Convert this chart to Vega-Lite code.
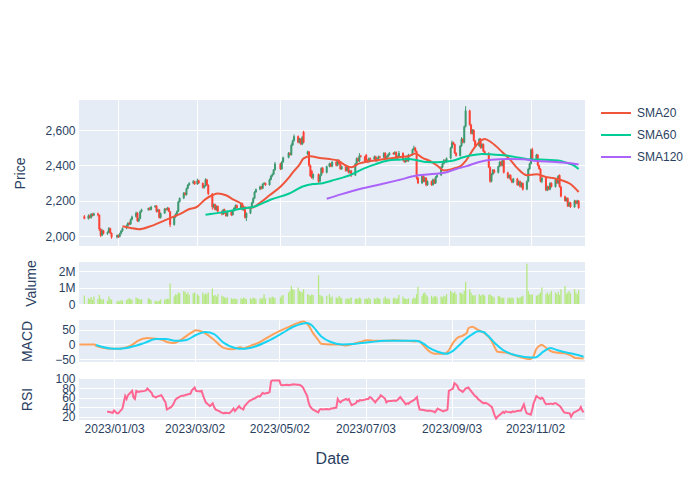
{
"$schema": "https://vega.github.io/schema/vega-lite/v6.json",
"background": "white",
"padding": {"left": 13, "top": 97, "right": 0, "bottom": 0},
"config": {
 "font": "Liberation Sans",
 "view": {"stroke": null, "fill": "#E5ECF6"},
 "axis": {"domain": false, "ticks": false, "tickSize": 0, "gridColor": "#ffffff", "gridWidth": 1, "labelColor": "#2a3f5f", "labelFontSize": 12, "titleColor": "#2a3f5f", "titleFontSize": 14, "titleFontWeight": "normal", "labelPadding": 4, "titlePadding": 20, "labelOverlap": false, "labelBound": false}
},
"datasets": {
"ohlc": [
{"d":"2022-12-09","o":2112,"h":2120,"l":2096,"c":2100,"v":520000},
{"d":"2022-12-12","o":2100,"h":2124,"l":2094,"c":2116,"v":350000},
{"d":"2022-12-13","o":2116,"h":2122,"l":2100,"c":2105,"v":300000},
{"d":"2022-12-14","o":2105,"h":2132,"l":2100,"c":2126,"v":420000},
{"d":"2022-12-15","o":2126,"h":2130,"l":2112,"c":2118,"v":260000},
{"d":"2022-12-16","o":2118,"h":2134,"l":2114,"c":2128,"v":460000},
{"d":"2022-12-19","o":2128,"h":2134,"l":2112,"c":2120,"v":300000},
{"d":"2022-12-20","o":2120,"h":2124,"l":2030,"c":2040,"v":560000},
{"d":"2022-12-21","o":2040,"h":2046,"l":1996,"c":2005,"v":340000},
{"d":"2022-12-22","o":2005,"h":2042,"l":2000,"c":2032,"v":250000},
{"d":"2022-12-23","o":2032,"h":2036,"l":2010,"c":2015,"v":300000},
{"d":"2022-12-26","o":2015,"h":2028,"l":2008,"c":2022,"v":200000},
{"d":"2022-12-27","o":2022,"h":2052,"l":2018,"c":2045,"v":450000},
{"d":"2022-12-28","o":2045,"h":2048,"l":2012,"c":2018,"v":300000},
{"d":"2022-12-29","o":2018,"h":2022,"l":1986,"c":1995,"v":260000,"r":31},
{"d":"2023-01-02","o":1995,"h":2010,"l":1988,"c":2005,"v":150000,"r":28},
{"d":"2023-01-03","o":2005,"h":2010,"l":1990,"c":1998,"v":200000,"r":33},
{"d":"2023-01-04","o":1998,"h":2020,"l":1994,"c":2015,"v":160000,"r":30},
{"d":"2023-01-05","o":2015,"h":2036,"l":2010,"c":2030,"v":250000,"r":27},
{"d":"2023-01-06","o":2030,"h":2050,"l":2025,"c":2045,"v":200000,"r":27},
{"d":"2023-01-09","o":2045,"h":2066,"l":2040,"c":2060,"v":240000,"r":37},
{"d":"2023-01-10","o":2060,"h":2080,"l":2055,"c":2075,"v":300000,"r":50},
{"d":"2023-01-11","o":2075,"h":2082,"l":2062,"c":2068,"v":350000,"r":63},
{"d":"2023-01-12","o":2068,"h":2100,"l":2064,"c":2095,"v":300000,"r":57},
{"d":"2023-01-13","o":2095,"h":2116,"l":2090,"c":2110,"v":260000,"r":65},
{"d":"2023-01-16","o":2110,"h":2140,"l":2106,"c":2132,"v":400000,"r":74},
{"d":"2023-01-17","o":2132,"h":2136,"l":2080,"c":2086,"v":350000,"r":60},
{"d":"2023-01-18","o":2086,"h":2105,"l":2080,"c":2100,"v":300000,"r":57},
{"d":"2023-01-19","o":2100,"h":2146,"l":2096,"c":2140,"v":260000,"r":74},
{"d":"2023-01-20","o":2140,"h":2156,"l":2134,"c":2150,"v":300000,"r":72},
{"d":"2023-01-25","o":2150,"h":2162,"l":2144,"c":2158,"v":350000,"r":74},
{"d":"2023-01-26","o":2158,"h":2164,"l":2146,"c":2150,"v":300000,"r":75},
{"d":"2023-01-27","o":2150,"h":2172,"l":2146,"c":2166,"v":250000,"r":79},
{"d":"2023-01-30","o":2166,"h":2176,"l":2160,"c":2172,"v":200000,"r":70},
{"d":"2023-01-31","o":2172,"h":2176,"l":2134,"c":2140,"v":160000,"r":63},
{"d":"2023-02-01","o":2140,"h":2156,"l":2136,"c":2150,"v":150000,"r":62},
{"d":"2023-02-02","o":2150,"h":2154,"l":2100,"c":2105,"v":200000,"r":60},
{"d":"2023-02-03","o":2105,"h":2134,"l":2100,"c":2130,"v":280000,"r":62},
{"d":"2023-02-06","o":2130,"h":2160,"l":2126,"c":2155,"v":260000,"r":65},
{"d":"2023-02-07","o":2155,"h":2160,"l":2144,"c":2150,"v":300000,"r":60},
{"d":"2023-02-08","o":2150,"h":2166,"l":2146,"c":2160,"v":320000,"r":55},
{"d":"2023-02-09","o":2160,"h":2164,"l":2136,"c":2140,"v":300000,"r":50},
{"d":"2023-02-10","o":2140,"h":2144,"l":2052,"c":2065,"v":1250000,"r":35},
{"d":"2023-02-13","o":2065,"h":2114,"l":2060,"c":2110,"v":450000,"r":40},
{"d":"2023-02-14","o":2110,"h":2130,"l":2104,"c":2125,"v":600000,"r":43},
{"d":"2023-02-15","o":2125,"h":2146,"l":2120,"c":2140,"v":550000,"r":48},
{"d":"2023-02-16","o":2140,"h":2200,"l":2136,"c":2195,"v":700000,"r":55},
{"d":"2023-02-17","o":2195,"h":2220,"l":2190,"c":2215,"v":650000,"r":58},
{"d":"2023-02-20","o":2215,"h":2250,"l":2210,"c":2245,"v":800000,"r":63},
{"d":"2023-02-21","o":2245,"h":2250,"l":2230,"c":2235,"v":750000,"r":64},
{"d":"2023-02-22","o":2235,"h":2275,"l":2230,"c":2270,"v":600000,"r":64},
{"d":"2023-02-23","o":2270,"h":2295,"l":2265,"c":2290,"v":700000,"r":65},
{"d":"2023-02-24","o":2290,"h":2306,"l":2285,"c":2300,"v":550000,"r":66},
{"d":"2023-02-27","o":2300,"h":2318,"l":2294,"c":2310,"v":650000,"r":68},
{"d":"2023-02-28","o":2310,"h":2314,"l":2290,"c":2295,"v":700000,"r":75},
{"d":"2023-03-02","o":2295,"h":2326,"l":2290,"c":2315,"v":600000,"r":81},
{"d":"2023-03-03","o":2315,"h":2320,"l":2296,"c":2300,"v":500000,"r":74},
{"d":"2023-03-06","o":2300,"h":2304,"l":2270,"c":2275,"v":700000,"r":73},
{"d":"2023-03-07","o":2275,"h":2290,"l":2268,"c":2285,"v":550000,"r":74},
{"d":"2023-03-08","o":2285,"h":2328,"l":2280,"c":2320,"v":650000,"r":65},
{"d":"2023-03-09","o":2320,"h":2324,"l":2284,"c":2290,"v":600000,"r":57},
{"d":"2023-03-10","o":2290,"h":2294,"l":2232,"c":2240,"v":700000,"r":50},
{"d":"2023-03-13","o":2240,"h":2244,"l":2150,"c":2165,"v":950000,"r":42},
{"d":"2023-03-14","o":2165,"h":2186,"l":2158,"c":2180,"v":500000,"r":45},
{"d":"2023-03-15","o":2180,"h":2184,"l":2146,"c":2150,"v":550000,"r":48},
{"d":"2023-03-16","o":2150,"h":2175,"l":2144,"c":2170,"v":450000,"r":40},
{"d":"2023-03-17","o":2170,"h":2174,"l":2136,"c":2140,"v":600000,"r":35},
{"d":"2023-03-20","o":2140,"h":2146,"l":2118,"c":2125,"v":500000,"r":31},
{"d":"2023-03-21","o":2125,"h":2155,"l":2120,"c":2150,"v":450000,"r":29},
{"d":"2023-03-22","o":2150,"h":2156,"l":2126,"c":2130,"v":400000,"r":28},
{"d":"2023-03-23","o":2130,"h":2136,"l":2110,"c":2115,"v":350000,"r":27},
{"d":"2023-03-24","o":2115,"h":2145,"l":2110,"c":2140,"v":400000,"r":28},
{"d":"2023-03-27","o":2140,"h":2146,"l":2114,"c":2120,"v":350000,"r":27},
{"d":"2023-03-28","o":2120,"h":2150,"l":2116,"c":2145,"v":300000,"r":30},
{"d":"2023-03-29","o":2145,"h":2165,"l":2140,"c":2160,"v":350000,"r":33},
{"d":"2023-03-30","o":2160,"h":2180,"l":2154,"c":2175,"v":300000,"r":37},
{"d":"2023-03-31","o":2175,"h":2180,"l":2155,"c":2160,"v":300000,"r":32},
{"d":"2023-04-03","o":2160,"h":2190,"l":2155,"c":2185,"v":350000,"r":42},
{"d":"2023-04-04","o":2185,"h":2190,"l":2145,"c":2150,"v":300000,"r":38},
{"d":"2023-04-05","o":2150,"h":2170,"l":2144,"c":2165,"v":400000,"r":37},
{"d":"2023-04-06","o":2165,"h":2170,"l":2100,"c":2105,"v":350000,"r":35},
{"d":"2023-04-07","o":2105,"h":2135,"l":2086,"c":2130,"v":300000,"r":42},
{"d":"2023-04-10","o":2130,"h":2165,"l":2125,"c":2160,"v":350000,"r":52},
{"d":"2023-04-11","o":2160,"h":2195,"l":2155,"c":2190,"v":300000,"r":54},
{"d":"2023-04-12","o":2190,"h":2220,"l":2185,"c":2215,"v":400000,"r":55},
{"d":"2023-04-13","o":2215,"h":2255,"l":2210,"c":2250,"v":350000,"r":57},
{"d":"2023-04-14","o":2250,"h":2270,"l":2244,"c":2265,"v":300000,"r":58},
{"d":"2023-04-17","o":2265,"h":2286,"l":2260,"c":2280,"v":350000,"r":63},
{"d":"2023-04-18","o":2280,"h":2284,"l":2264,"c":2270,"v":300000,"r":62},
{"d":"2023-04-19","o":2270,"h":2300,"l":2266,"c":2295,"v":400000,"r":66},
{"d":"2023-04-20","o":2295,"h":2306,"l":2290,"c":2300,"v":600000,"r":70},
{"d":"2023-04-21","o":2300,"h":2304,"l":2284,"c":2290,"v":350000,"r":68},
{"d":"2023-04-24","o":2290,"h":2326,"l":2286,"c":2320,"v":400000,"r":70},
{"d":"2023-04-25","o":2320,"h":2346,"l":2316,"c":2340,"v":350000,"r":72},
{"d":"2023-04-26","o":2340,"h":2356,"l":2334,"c":2350,"v":450000,"r":94},
{"d":"2023-04-27","o":2350,"h":2380,"l":2346,"c":2375,"v":400000,"r":96},
{"d":"2023-04-28","o":2375,"h":2420,"l":2370,"c":2410,"v":350000,"r":96},
{"d":"2023-05-02","o":2410,"h":2415,"l":2374,"c":2380,"v":400000,"r":96},
{"d":"2023-05-03","o":2380,"h":2426,"l":2375,"c":2420,"v":500000,"r":87},
{"d":"2023-05-04","o":2420,"h":2450,"l":2415,"c":2445,"v":550000,"r":86},
{"d":"2023-05-08","o":2445,"h":2476,"l":2440,"c":2470,"v":700000,"r":87},
{"d":"2023-05-09","o":2470,"h":2475,"l":2455,"c":2460,"v":800000,"r":86},
{"d":"2023-05-10","o":2460,"h":2525,"l":2456,"c":2515,"v":1100000,"r":87},
{"d":"2023-05-11","o":2515,"h":2546,"l":2510,"c":2540,"v":900000,"r":87},
{"d":"2023-05-12","o":2540,"h":2575,"l":2535,"c":2565,"v":850000,"r":88},
{"d":"2023-05-15","o":2565,"h":2570,"l":2525,"c":2530,"v":1000000,"r":87},
{"d":"2023-05-16","o":2530,"h":2556,"l":2525,"c":2550,"v":800000,"r":87},
{"d":"2023-05-17","o":2550,"h":2555,"l":2515,"c":2520,"v":750000,"r":86},
{"d":"2023-05-18","o":2520,"h":2566,"l":2515,"c":2560,"v":700000,"r":84},
{"d":"2023-05-19","o":2590,"h":2596,"l":2525,"c":2530,"v":900000,"r":81},
{"d":"2023-05-22","o":2465,"h":2484,"l":2458,"c":2478,"v":600000,"r":63},
{"d":"2023-05-23","o":2478,"h":2482,"l":2392,"c":2400,"v":550000,"r":50},
{"d":"2023-05-24","o":2400,"h":2405,"l":2335,"c":2340,"v":500000,"r":42},
{"d":"2023-05-25","o":2370,"h":2375,"l":2325,"c":2330,"v":600000,"r":38},
{"d":"2023-05-26","o":2330,"h":2356,"l":2320,"c":2350,"v":550000,"r":35},
{"d":"2023-05-30","o":2350,"h":2355,"l":2300,"c":2310,"v":1750000,"r":29},
{"d":"2023-05-31","o":2310,"h":2350,"l":2305,"c":2345,"v":550000,"r":35},
{"d":"2023-06-01","o":2345,"h":2390,"l":2340,"c":2385,"v":500000,"r":36},
{"d":"2023-06-02","o":2385,"h":2392,"l":2355,"c":2360,"v":450000,"r":35},
{"d":"2023-06-05","o":2360,"h":2400,"l":2355,"c":2395,"v":500000,"r":36},
{"d":"2023-06-07","o":2395,"h":2416,"l":2390,"c":2410,"v":600000,"r":35},
{"d":"2023-06-08","o":2410,"h":2415,"l":2390,"c":2395,"v":400000,"r":37},
{"d":"2023-06-09","o":2395,"h":2426,"l":2390,"c":2420,"v":450000,"r":37},
{"d":"2023-06-12","o":2420,"h":2425,"l":2395,"c":2400,"v":400000,"r":39},
{"d":"2023-06-13","o":2400,"h":2436,"l":2395,"c":2430,"v":350000,"r":57},
{"d":"2023-06-14","o":2430,"h":2435,"l":2405,"c":2410,"v":500000,"r":52},
{"d":"2023-06-15","o":2410,"h":2415,"l":2375,"c":2380,"v":400000,"r":50},
{"d":"2023-06-16","o":2380,"h":2400,"l":2375,"c":2395,"v":350000,"r":53},
{"d":"2023-06-19","o":2395,"h":2400,"l":2365,"c":2370,"v":300000,"r":57},
{"d":"2023-06-20","o":2370,"h":2395,"l":2365,"c":2390,"v":350000,"r":55},
{"d":"2023-06-21","o":2390,"h":2395,"l":2355,"c":2360,"v":300000,"r":57},
{"d":"2023-06-22","o":2360,"h":2376,"l":2355,"c":2370,"v":350000,"r":50},
{"d":"2023-06-23","o":2370,"h":2375,"l":2335,"c":2345,"v":400000,"r":44},
{"d":"2023-06-26","o":2345,"h":2415,"l":2340,"c":2410,"v":300000,"r":48},
{"d":"2023-06-27","o":2410,"h":2446,"l":2405,"c":2440,"v":350000,"r":53},
{"d":"2023-06-28","o":2440,"h":2445,"l":2420,"c":2425,"v":300000,"r":52},
{"d":"2023-06-29","o":2425,"h":2470,"l":2420,"c":2455,"v":400000,"r":55},
{"d":"2023-06-30","o":2455,"h":2460,"l":2445,"c":2450,"v":350000,"r":54},
{"d":"2023-07-03","o":2450,"h":2455,"l":2420,"c":2425,"v":300000,"r":56},
{"d":"2023-07-04","o":2460,"h":2466,"l":2425,"c":2430,"v":350000,"r":57},
{"d":"2023-07-05","o":2430,"h":2435,"l":2415,"c":2420,"v":300000,"r":57},
{"d":"2023-07-06","o":2420,"h":2446,"l":2415,"c":2440,"v":400000,"r":61},
{"d":"2023-07-07","o":2440,"h":2445,"l":2430,"c":2435,"v":300000,"r":60},
{"d":"2023-07-10","o":2435,"h":2456,"l":2430,"c":2450,"v":350000,"r":50},
{"d":"2023-07-11","o":2450,"h":2455,"l":2420,"c":2425,"v":300000,"r":54},
{"d":"2023-07-12","o":2425,"h":2446,"l":2420,"c":2440,"v":400000,"r":57},
{"d":"2023-07-13","o":2440,"h":2456,"l":2435,"c":2450,"v":350000,"r":60},
{"d":"2023-07-14","o":2450,"h":2455,"l":2440,"c":2445,"v":300000,"r":65},
{"d":"2023-07-17","o":2445,"h":2476,"l":2440,"c":2470,"v":350000,"r":58},
{"d":"2023-07-18","o":2470,"h":2475,"l":2435,"c":2440,"v":450000,"r":50},
{"d":"2023-07-19","o":2440,"h":2456,"l":2435,"c":2450,"v":300000,"r":52},
{"d":"2023-07-20","o":2450,"h":2466,"l":2445,"c":2460,"v":350000,"r":53},
{"d":"2023-07-21","o":2460,"h":2476,"l":2455,"c":2470,"v":300000,"r":53},
{"d":"2023-07-24","o":2470,"h":2475,"l":2460,"c":2465,"v":350000,"r":54},
{"d":"2023-07-25","o":2465,"h":2480,"l":2460,"c":2475,"v":400000,"r":53},
{"d":"2023-07-26","o":2475,"h":2480,"l":2435,"c":2440,"v":300000,"r":55},
{"d":"2023-07-27","o":2440,"h":2456,"l":2435,"c":2450,"v":350000,"r":58},
{"d":"2023-07-28","o":2450,"h":2482,"l":2445,"c":2470,"v":550000,"r":61},
{"d":"2023-07-31","o":2470,"h":2475,"l":2425,"c":2430,"v":450000,"r":50},
{"d":"2023-08-01","o":2430,"h":2435,"l":2415,"c":2420,"v":350000,"r":46},
{"d":"2023-08-02","o":2420,"h":2446,"l":2415,"c":2440,"v":300000,"r":48},
{"d":"2023-08-03","o":2440,"h":2445,"l":2420,"c":2425,"v":300000,"r":47},
{"d":"2023-08-04","o":2425,"h":2466,"l":2420,"c":2460,"v":350000,"r":50},
{"d":"2023-08-07","o":2460,"h":2495,"l":2455,"c":2490,"v":300000,"r":55},
{"d":"2023-08-08","o":2490,"h":2512,"l":2485,"c":2500,"v":400000,"r":58},
{"d":"2023-08-09","o":2500,"h":2505,"l":2475,"c":2480,"v":350000,"r":61},
{"d":"2023-08-10","o":2480,"h":2485,"l":2320,"c":2330,"v":600000,"r":45},
{"d":"2023-08-11","o":2330,"h":2335,"l":2295,"c":2300,"v":1050000,"r":35},
{"d":"2023-08-14","o":2300,"h":2345,"l":2295,"c":2340,"v":500000,"r":34},
{"d":"2023-08-15","o":2340,"h":2345,"l":2305,"c":2310,"v":650000,"r":33},
{"d":"2023-08-16","o":2310,"h":2336,"l":2305,"c":2330,"v":700000,"r":33},
{"d":"2023-08-17","o":2330,"h":2335,"l":2282,"c":2290,"v":550000,"r":32},
{"d":"2023-08-18","o":2290,"h":2316,"l":2285,"c":2310,"v":450000,"r":33},
{"d":"2023-08-21","o":2310,"h":2315,"l":2285,"c":2290,"v":500000,"r":31},
{"d":"2023-08-22","o":2290,"h":2326,"l":2285,"c":2320,"v":400000,"r":29},
{"d":"2023-08-23","o":2320,"h":2325,"l":2295,"c":2300,"v":450000,"r":33},
{"d":"2023-08-24","o":2300,"h":2340,"l":2295,"c":2335,"v":500000,"r":37},
{"d":"2023-08-25","o":2335,"h":2350,"l":2330,"c":2345,"v":400000,"r":35},
{"d":"2023-08-28","o":2345,"h":2396,"l":2340,"c":2390,"v":450000,"r":31},
{"d":"2023-08-29","o":2390,"h":2416,"l":2385,"c":2410,"v":400000,"r":33},
{"d":"2023-08-30","o":2410,"h":2436,"l":2405,"c":2430,"v":500000,"r":33},
{"d":"2023-08-31","o":2430,"h":2435,"l":2415,"c":2420,"v":450000,"r":35},
{"d":"2023-09-01","o":2420,"h":2446,"l":2415,"c":2440,"v":600000,"r":74},
{"d":"2023-09-04","o":2440,"h":2505,"l":2435,"c":2500,"v":800000,"r":79},
{"d":"2023-09-05","o":2500,"h":2540,"l":2495,"c":2530,"v":700000,"r":90},
{"d":"2023-09-06","o":2530,"h":2535,"l":2515,"c":2520,"v":650000,"r":88},
{"d":"2023-09-07","o":2520,"h":2525,"l":2465,"c":2470,"v":750000,"r":85},
{"d":"2023-09-08","o":2470,"h":2475,"l":2450,"c":2455,"v":600000,"r":78},
{"d":"2023-09-11","o":2455,"h":2516,"l":2450,"c":2510,"v":700000,"r":72},
{"d":"2023-09-12","o":2510,"h":2560,"l":2505,"c":2550,"v":650000,"r":75},
{"d":"2023-09-13","o":2550,"h":2555,"l":2525,"c":2530,"v":600000,"r":79},
{"d":"2023-09-14","o":2530,"h":2626,"l":2525,"c":2620,"v":800000,"r":80},
{"d":"2023-09-15","o":2620,"h":2735,"l":2615,"c":2710,"v":1350000,"r":81},
{"d":"2023-09-18","o":2710,"h":2715,"l":2625,"c":2630,"v":900000,"r":70},
{"d":"2023-09-19","o":2630,"h":2636,"l":2575,"c":2580,"v":700000,"r":66},
{"d":"2023-09-20","o":2580,"h":2606,"l":2575,"c":2600,"v":550000,"r":63},
{"d":"2023-09-21","o":2600,"h":2605,"l":2535,"c":2540,"v":500000,"r":61},
{"d":"2023-09-22","o":2540,"h":2545,"l":2505,"c":2510,"v":550000,"r":57},
{"d":"2023-09-25","o":2510,"h":2556,"l":2505,"c":2550,"v":600000,"r":50},
{"d":"2023-09-26","o":2550,"h":2555,"l":2495,"c":2500,"v":500000,"r":48},
{"d":"2023-09-27","o":2500,"h":2526,"l":2495,"c":2520,"v":550000,"r":49},
{"d":"2023-09-28","o":2520,"h":2525,"l":2475,"c":2480,"v":600000,"r":48},
{"d":"2023-09-29","o":2480,"h":2485,"l":2465,"c":2470,"v":500000,"r":47},
{"d":"2023-10-02","o":2470,"h":2475,"l":2385,"c":2390,"v":550000,"r":40},
{"d":"2023-10-03","o":2390,"h":2395,"l":2302,"c":2310,"v":600000,"r":31},
{"d":"2023-10-04","o":2310,"h":2356,"l":2305,"c":2350,"v":500000,"r":22},
{"d":"2023-10-05","o":2350,"h":2380,"l":2345,"c":2375,"v":450000,"r":16},
{"d":"2023-10-06","o":2375,"h":2380,"l":2355,"c":2360,"v":400000,"r":20},
{"d":"2023-10-09","o":2360,"h":2400,"l":2355,"c":2395,"v":500000,"r":27},
{"d":"2023-10-10","o":2395,"h":2426,"l":2390,"c":2420,"v":450000,"r":30},
{"d":"2023-10-11","o":2420,"h":2425,"l":2395,"c":2400,"v":400000,"r":28},
{"d":"2023-10-12","o":2400,"h":2436,"l":2395,"c":2430,"v":350000,"r":31},
{"d":"2023-10-13","o":2430,"h":2435,"l":2355,"c":2360,"v":400000,"r":30},
{"d":"2023-10-16","o":2360,"h":2365,"l":2325,"c":2330,"v":350000,"r":29},
{"d":"2023-10-17","o":2330,"h":2350,"l":2325,"c":2345,"v":400000,"r":31},
{"d":"2023-10-18","o":2345,"h":2350,"l":2315,"c":2320,"v":350000,"r":30},
{"d":"2023-10-19","o":2320,"h":2325,"l":2300,"c":2305,"v":400000,"r":31},
{"d":"2023-10-20","o":2305,"h":2330,"l":2300,"c":2325,"v":350000,"r":32},
{"d":"2023-10-23","o":2325,"h":2330,"l":2285,"c":2290,"v":400000,"r":33},
{"d":"2023-10-24","o":2290,"h":2316,"l":2285,"c":2310,"v":350000,"r":40},
{"d":"2023-10-25","o":2310,"h":2315,"l":2275,"c":2280,"v":400000,"r":46},
{"d":"2023-10-26","o":2280,"h":2306,"l":2275,"c":2300,"v":450000,"r":35},
{"d":"2023-10-27","o":2300,"h":2305,"l":2258,"c":2265,"v":500000,"r":27},
{"d":"2023-10-30","o":2265,"h":2316,"l":2260,"c":2310,"v":2450000,"r":24},
{"d":"2023-10-31","o":2310,"h":2386,"l":2305,"c":2380,"v":800000,"r":35},
{"d":"2023-11-01","o":2380,"h":2416,"l":2375,"c":2410,"v":600000,"r":48},
{"d":"2023-11-02","o":2410,"h":2495,"l":2405,"c":2490,"v":550000,"r":55},
{"d":"2023-11-03","o":2490,"h":2500,"l":2435,"c":2440,"v":600000,"r":63},
{"d":"2023-11-06","o":2440,"h":2466,"l":2435,"c":2460,"v":500000,"r":57},
{"d":"2023-11-07","o":2460,"h":2465,"l":2395,"c":2400,"v":550000,"r":60},
{"d":"2023-11-08","o":2400,"h":2405,"l":2375,"c":2380,"v":600000,"r":57},
{"d":"2023-11-09","o":2380,"h":2385,"l":2305,"c":2310,"v":700000,"r":50},
{"d":"2023-11-10","o":2310,"h":2336,"l":2300,"c":2330,"v":1000000,"r":46},
{"d":"2023-11-13","o":2330,"h":2335,"l":2255,"c":2260,"v":600000,"r":47},
{"d":"2023-11-14","o":2260,"h":2286,"l":2255,"c":2280,"v":700000,"r":47},
{"d":"2023-11-15","o":2280,"h":2285,"l":2260,"c":2265,"v":550000,"r":46},
{"d":"2023-11-16","o":2265,"h":2306,"l":2260,"c":2300,"v":650000,"r":48},
{"d":"2023-11-17","o":2300,"h":2305,"l":2275,"c":2280,"v":800000,"r":48},
{"d":"2023-11-20","o":2280,"h":2326,"l":2275,"c":2320,"v":700000,"r":42},
{"d":"2023-11-21","o":2320,"h":2325,"l":2295,"c":2300,"v":600000,"r":38},
{"d":"2023-11-22","o":2300,"h":2346,"l":2295,"c":2340,"v":750000,"r":33},
{"d":"2023-11-23","o":2345,"h":2350,"l":2275,"c":2280,"v":550000,"r":29},
{"d":"2023-11-24","o":2280,"h":2285,"l":2220,"c":2225,"v":900000,"r":28},
{"d":"2023-11-27","o":2225,"h":2230,"l":2195,"c":2200,"v":1100000,"r":27},
{"d":"2023-11-28","o":2200,"h":2220,"l":2195,"c":2215,"v":600000,"r":20},
{"d":"2023-11-29","o":2215,"h":2220,"l":2165,"c":2170,"v":700000,"r":25},
{"d":"2023-11-30","o":2170,"h":2196,"l":2165,"c":2190,"v":800000,"r":29},
{"d":"2023-12-01","o":2190,"h":2195,"l":2160,"c":2165,"v":650000,"r":30},
{"d":"2023-12-04","o":2165,"h":2206,"l":2160,"c":2200,"v":900000,"r":35},
{"d":"2023-12-05","o":2200,"h":2205,"l":2180,"c":2185,"v":700000,"r":40},
{"d":"2023-12-06","o":2185,"h":2206,"l":2180,"c":2200,"v":600000,"r":33},
{"d":"2023-12-07","o":2200,"h":2205,"l":2155,"c":2160,"v":850000,"r":29}
],
"sma": [
{"d":"2023-01-06","s":"SMA20","v":2057},{"d":"2023-01-12","s":"SMA20","v":2047},{"d":"2023-01-18","s":"SMA20","v":2040},{"d":"2023-01-26","s":"SMA20","v":2055},{"d":"2023-02-06","s":"SMA20","v":2090},{"d":"2023-02-13","s":"SMA20","v":2112},{"d":"2023-02-17","s":"SMA20","v":2125},{"d":"2023-02-23","s":"SMA20","v":2150},{"d":"2023-03-02","s":"SMA20","v":2168},{"d":"2023-03-08","s":"SMA20","v":2210},{"d":"2023-03-13","s":"SMA20","v":2232},{"d":"2023-03-17","s":"SMA20","v":2242},{"d":"2023-03-23","s":"SMA20","v":2232},{"d":"2023-03-29","s":"SMA20","v":2205},{"d":"2023-04-03","s":"SMA20","v":2185},{"d":"2023-04-06","s":"SMA20","v":2160},{"d":"2023-04-11","s":"SMA20","v":2162},{"d":"2023-04-18","s":"SMA20","v":2195},{"d":"2023-04-24","s":"SMA20","v":2232},{"d":"2023-05-02","s":"SMA20","v":2280},{"d":"2023-05-08","s":"SMA20","v":2330},{"d":"2023-05-11","s":"SMA20","v":2360},{"d":"2023-05-16","s":"SMA20","v":2405},{"d":"2023-05-19","s":"SMA20","v":2440},{"d":"2023-05-24","s":"SMA20","v":2452},{"d":"2023-05-31","s":"SMA20","v":2442},{"d":"2023-06-07","s":"SMA20","v":2436},{"d":"2023-06-13","s":"SMA20","v":2428},{"d":"2023-06-19","s":"SMA20","v":2400},{"d":"2023-06-23","s":"SMA20","v":2390},{"d":"2023-06-29","s":"SMA20","v":2412},{"d":"2023-07-07","s":"SMA20","v":2425},{"d":"2023-07-14","s":"SMA20","v":2432},{"d":"2023-07-21","s":"SMA20","v":2440},{"d":"2023-07-28","s":"SMA20","v":2447},{"d":"2023-08-04","s":"SMA20","v":2452},{"d":"2023-08-09","s":"SMA20","v":2468},{"d":"2023-08-14","s":"SMA20","v":2445},{"d":"2023-08-21","s":"SMA20","v":2420},{"d":"2023-08-25","s":"SMA20","v":2400},{"d":"2023-08-30","s":"SMA20","v":2372},{"d":"2023-09-04","s":"SMA20","v":2378},{"d":"2023-09-07","s":"SMA20","v":2385},{"d":"2023-09-12","s":"SMA20","v":2400},{"d":"2023-09-15","s":"SMA20","v":2425},{"d":"2023-09-21","s":"SMA20","v":2495},{"d":"2023-09-26","s":"SMA20","v":2540},{"d":"2023-09-29","s":"SMA20","v":2550},{"d":"2023-10-04","s":"SMA20","v":2530},{"d":"2023-10-12","s":"SMA20","v":2475},{"d":"2023-10-18","s":"SMA20","v":2430},{"d":"2023-10-23","s":"SMA20","v":2385},{"d":"2023-10-30","s":"SMA20","v":2345},{"d":"2023-11-06","s":"SMA20","v":2350},{"d":"2023-11-13","s":"SMA20","v":2335},{"d":"2023-11-17","s":"SMA20","v":2330},{"d":"2023-11-24","s":"SMA20","v":2318},{"d":"2023-12-01","s":"SMA20","v":2295},{"d":"2023-12-07","s":"SMA20","v":2250},
{"d":"2023-03-08","s":"SMA60","v":2122},{"d":"2023-03-20","s":"SMA60","v":2135},{"d":"2023-04-03","s":"SMA60","v":2155},{"d":"2023-04-14","s":"SMA60","v":2170},{"d":"2023-04-25","s":"SMA60","v":2208},{"d":"2023-05-08","s":"SMA60","v":2240},{"d":"2023-05-19","s":"SMA60","v":2283},{"d":"2023-05-26","s":"SMA60","v":2295},{"d":"2023-06-02","s":"SMA60","v":2300},{"d":"2023-06-09","s":"SMA60","v":2315},{"d":"2023-06-16","s":"SMA60","v":2330},{"d":"2023-06-22","s":"SMA60","v":2345},{"d":"2023-07-03","s":"SMA60","v":2385},{"d":"2023-07-10","s":"SMA60","v":2405},{"d":"2023-07-20","s":"SMA60","v":2428},{"d":"2023-07-28","s":"SMA60","v":2433},{"d":"2023-08-04","s":"SMA60","v":2436},{"d":"2023-08-10","s":"SMA60","v":2430},{"d":"2023-08-17","s":"SMA60","v":2420},{"d":"2023-08-25","s":"SMA60","v":2418},{"d":"2023-09-01","s":"SMA60","v":2422},{"d":"2023-09-07","s":"SMA60","v":2430},{"d":"2023-09-14","s":"SMA60","v":2448},{"d":"2023-09-22","s":"SMA60","v":2460},{"d":"2023-09-27","s":"SMA60","v":2465},{"d":"2023-10-05","s":"SMA60","v":2462},{"d":"2023-10-13","s":"SMA60","v":2458},{"d":"2023-10-20","s":"SMA60","v":2450},{"d":"2023-11-01","s":"SMA60","v":2435},{"d":"2023-11-13","s":"SMA60","v":2432},{"d":"2023-11-22","s":"SMA60","v":2428},{"d":"2023-11-28","s":"SMA60","v":2415},{"d":"2023-12-04","s":"SMA60","v":2398},{"d":"2023-12-07","s":"SMA60","v":2380},
{"d":"2023-06-05","s":"SMA120","v":2212},{"d":"2023-06-16","s":"SMA120","v":2238},{"d":"2023-06-30","s":"SMA120","v":2268},{"d":"2023-07-14","s":"SMA120","v":2292},{"d":"2023-07-28","s":"SMA120","v":2318},{"d":"2023-08-10","s":"SMA120","v":2343},{"d":"2023-08-24","s":"SMA120","v":2353},{"d":"2023-09-01","s":"SMA120","v":2362},{"d":"2023-09-08","s":"SMA120","v":2380},{"d":"2023-09-15","s":"SMA120","v":2395},{"d":"2023-09-25","s":"SMA120","v":2420},{"d":"2023-10-04","s":"SMA120","v":2432},{"d":"2023-10-16","s":"SMA120","v":2436},{"d":"2023-10-27","s":"SMA120","v":2435},{"d":"2023-11-06","s":"SMA120","v":2425},{"d":"2023-11-20","s":"SMA120","v":2420},{"d":"2023-12-01","s":"SMA120","v":2413},{"d":"2023-12-07","s":"SMA120","v":2405}
],
"macd": [
{"d":"2022-12-09","m":0},{"d":"2022-12-20","m":0},{"d":"2022-12-21","m":-5},{"d":"2022-12-27","m":-12},{"d":"2023-01-03","m":-15},{"d":"2023-01-10","m":-12},{"d":"2023-01-16","m":-2},{"d":"2023-01-18","m":5},{"d":"2023-01-20","m":12},{"d":"2023-01-27","m":22},{"d":"2023-02-01","m":20},{"d":"2023-02-07","m":15},{"d":"2023-02-10","m":8},{"d":"2023-02-15","m":5},{"d":"2023-02-20","m":15},{"d":"2023-02-27","m":38},{"d":"2023-03-03","m":48},{"d":"2023-03-08","m":42},{"d":"2023-03-16","m":15},{"d":"2023-03-23","m":-12},{"d":"2023-03-29","m":-17},{"d":"2023-04-04","m":-10},{"d":"2023-04-06","m":-14},{"d":"2023-04-11","m":-5},{"d":"2023-04-18","m":8},{"d":"2023-04-24","m":25},{"d":"2023-05-02","m":45},{"d":"2023-05-08","m":58},{"d":"2023-05-16","m":74},{"d":"2023-05-19","m":78},{"d":"2023-05-23","m":65},{"d":"2023-05-26","m":40},{"d":"2023-05-30","m":15},{"d":"2023-06-01","m":2},{"d":"2023-06-08","m":0},{"d":"2023-06-14","m":0},{"d":"2023-06-19","m":-4},{"d":"2023-06-23","m":0},{"d":"2023-06-29","m":8},{"d":"2023-07-04","m":14},{"d":"2023-07-10","m":12},{"d":"2023-07-17","m":12},{"d":"2023-07-24","m":14},{"d":"2023-08-01","m":12},{"d":"2023-08-08","m":10},{"d":"2023-08-10","m":12},{"d":"2023-08-14","m":-5},{"d":"2023-08-17","m":-20},{"d":"2023-08-22","m":-32},{"d":"2023-08-28","m":-32},{"d":"2023-09-01","m":-20},{"d":"2023-09-04","m":5},{"d":"2023-09-07","m":22},{"d":"2023-09-11","m":30},{"d":"2023-09-14","m":40},{"d":"2023-09-15","m":55},{"d":"2023-09-18","m":60},{"d":"2023-09-21","m":52},{"d":"2023-09-26","m":40},{"d":"2023-10-02","m":10},{"d":"2023-10-04","m":-10},{"d":"2023-10-06","m":-25},{"d":"2023-10-12","m":-28},{"d":"2023-10-19","m":-38},{"d":"2023-10-26","m":-48},{"d":"2023-10-30","m":-50},{"d":"2023-11-01","m":-40},{"d":"2023-11-03","m":-15},{"d":"2023-11-07","m":-2},{"d":"2023-11-09","m":-8},{"d":"2023-11-13","m":-22},{"d":"2023-11-17","m":-28},{"d":"2023-11-23","m":-30},{"d":"2023-11-28","m":-38},{"d":"2023-12-01","m":-46},{"d":"2023-12-07","m":-48}
],
"sig": [
{"d":"2022-12-21","s":-2},{"d":"2023-01-03","s":-15},{"d":"2023-01-12","s":-12},{"d":"2023-01-25","s":5},{"d":"2023-02-02","s":18},{"d":"2023-02-09","s":18},{"d":"2023-02-17","s":12},{"d":"2023-02-24","s":15},{"d":"2023-03-03","s":32},{"d":"2023-03-10","s":42},{"d":"2023-03-16","s":35},{"d":"2023-03-23","s":5},{"d":"2023-03-31","s":-12},{"d":"2023-04-06","s":-15},{"d":"2023-04-14","s":-8},{"d":"2023-04-24","s":12},{"d":"2023-05-04","s":38},{"d":"2023-05-12","s":60},{"d":"2023-05-22","s":73},{"d":"2023-05-25","s":66},{"d":"2023-06-01","s":28},{"d":"2023-06-08","s":8},{"d":"2023-06-16","s":0},{"d":"2023-06-26","s":2},{"d":"2023-07-07","s":8},{"d":"2023-07-17","s":12},{"d":"2023-07-28","s":12},{"d":"2023-08-08","s":12},{"d":"2023-08-14","s":2},{"d":"2023-08-18","s":-12},{"d":"2023-08-24","s":-25},{"d":"2023-08-30","s":-32},{"d":"2023-09-04","s":-22},{"d":"2023-09-08","s":-5},{"d":"2023-09-13","s":18},{"d":"2023-09-18","s":35},{"d":"2023-09-22","s":45},{"d":"2023-09-26","s":42},{"d":"2023-09-29","s":30},{"d":"2023-10-04","s":5},{"d":"2023-10-12","s":-25},{"d":"2023-10-20","s":-38},{"d":"2023-10-30","s":-45},{"d":"2023-11-02","s":-45},{"d":"2023-11-08","s":-25},{"d":"2023-11-13","s":-12},{"d":"2023-11-17","s":-18},{"d":"2023-11-22","s":-25},{"d":"2023-11-30","s":-33},{"d":"2023-12-07","s":-42}
]
},
"spacing": 16,
"bounds": "flush",
"vconcat": [
{
 "width": 506, "height": 146,
 "layer": [
  {"data": {"name": "ohlc"}, "mark": {"type": "rule", "strokeWidth": 1},
   "encoding": {
    "x": {"field": "d", "type": "temporal", "scale": {"type": "utc", "domain": [{"year":2022,"month":12,"date":8,"hours":18,"utc":true},{"year":2023,"month":12,"date":8,"utc":true}]},
          "axis": {"values": [{"year":2023,"month":1,"date":3,"utc":true},{"year":2023,"month":3,"date":2,"utc":true},{"year":2023,"month":5,"date":2,"utc":true},{"year":2023,"month":7,"date":3,"utc":true},{"year":2023,"month":9,"date":3,"utc":true},{"year":2023,"month":11,"date":2,"utc":true}], "labels": false, "title": null, "grid": true}},
    "y": {"field": "l", "type": "quantitative", "scale": {"domain": [1945, 2770], "nice": false, "zero": false}, "axis": {"title": "Price", "titlePadding": 17, "values": [2000, 2200, 2400, 2600], "labelExpr": "format(datum.value, ',d')"}},
    "y2": {"field": "h"},
    "color": {"condition": {"test": "datum.c >= datum.o", "value": "#3D9970"}, "value": "#FF4136"}
   }},
  {"data": {"name": "ohlc"}, "mark": {"type": "bar", "width": 2},
   "encoding": {
    "x": {"field": "d", "type": "temporal"},
    "y": {"field": "o", "type": "quantitative"},
    "y2": {"field": "c"},
    "color": {"condition": {"test": "datum.c >= datum.o", "value": "#3D9970"}, "value": "#FF4136"}
   }},
  {"data": {"name": "sma"}, "mark": {"type": "line", "strokeWidth": 2, "interpolate": "monotone"},
   "encoding": {
    "x": {"field": "d", "type": "temporal"},
    "y": {"field": "v", "type": "quantitative"},
    "color": {"field": "s", "type": "nominal", "scale": {"domain": ["SMA20", "SMA60", "SMA120"], "range": ["#EF553B", "#00cc96", "#ab63fa"]},
      "legend": {"title": null, "orient": "none", "legendX": 521, "legendY": -3, "symbolType": "stroke", "symbolSize": 900, "symbolStrokeWidth": 2, "labelFontSize": 12, "labelColor": "#2a3f5f", "labelOffset": 5, "rowPadding": -6, "padding": 0}}
   }}
 ]
},
{
 "width": 506, "height": 42,
 "data": {"name": "ohlc"},
 "mark": {"type": "bar", "width": 1.3, "color": "#B6E880"},
 "encoding": {
  "x": {"field": "d", "type": "temporal", "scale": {"type": "utc", "domain": [{"year":2022,"month":12,"date":8,"hours":18,"utc":true},{"year":2023,"month":12,"date":8,"utc":true}]}, "axis": null},
  "y": {"field": "v", "type": "quantitative", "scale": {"domain": [0, 2560000], "nice": false}, "axis": {"title": "Valume", "values": [0, 1000000, 2000000], "labelExpr": "datum.value == 0 ? '0' : format(datum.value / 1000000, 'd') + 'M'"}}
 }
},
{
 "width": 506, "height": 42,
 "layer": [
  {"data": {"name": "macd"}, "mark": {"type": "line", "strokeWidth": 2, "color": "#FFA15A", "interpolate": "monotone"},
   "encoding": {
    "x": {"field": "d", "type": "temporal", "scale": {"type": "utc", "domain": [{"year":2022,"month":12,"date":8,"hours":18,"utc":true},{"year":2023,"month":12,"date":8,"utc":true}]},
          "axis": {"values": [{"year":2023,"month":1,"date":3,"utc":true},{"year":2023,"month":3,"date":2,"utc":true},{"year":2023,"month":5,"date":2,"utc":true},{"year":2023,"month":7,"date":3,"utc":true},{"year":2023,"month":9,"date":3,"utc":true},{"year":2023,"month":11,"date":2,"utc":true}], "labels": false, "title": null, "grid": true}},
    "y": {"field": "m", "type": "quantitative", "scale": {"domain": [-60, 83], "nice": false, "zero": false}, "axis": {"title": "MACD", "tickCount": 3, "labelOverlap": false}}
   }},
  {"data": {"name": "sig"}, "mark": {"type": "line", "strokeWidth": 2, "color": "#19d3f3", "interpolate": "monotone"},
   "encoding": {
    "x": {"field": "d", "type": "temporal"},
    "y": {"field": "s", "type": "quantitative"}
   }}
 ]
},
{
 "width": 506, "height": 42,
 "data": {"name": "ohlc"},
 "mark": {"type": "line", "strokeWidth": 2, "color": "#FF6692"},
 "encoding": {
  "x": {"field": "d", "type": "temporal", "scale": {"type": "utc", "domain": [{"year":2022,"month":12,"date":8,"hours":18,"utc":true},{"year":2023,"month":12,"date":8,"utc":true}]},
        "axis": {"values": [{"year":2023,"month":1,"date":3,"utc":true},{"year":2023,"month":3,"date":2,"utc":true},{"year":2023,"month":5,"date":2,"utc":true},{"year":2023,"month":7,"date":3,"utc":true},{"year":2023,"month":9,"date":3,"utc":true},{"year":2023,"month":11,"date":2,"utc":true}], "labelExpr": "utcFormat(datum.value, '%Y/%m/%d')", "title": "Date", "titleFontSize": 16, "grid": true, "labelPadding": 3, "titlePadding": 16}},
  "y": {"field": "r", "type": "quantitative", "scale": {"domain": [13, 101], "nice": false, "zero": false}, "axis": {"title": "RSI", "values": [20, 40, 60, 80, 100], "labelExpr": "format(datum.value, 'd')"}}
 }
}
],
"resolve": {"scale": {"color": "independent"}, "legend": {"color": "independent"}}
}
